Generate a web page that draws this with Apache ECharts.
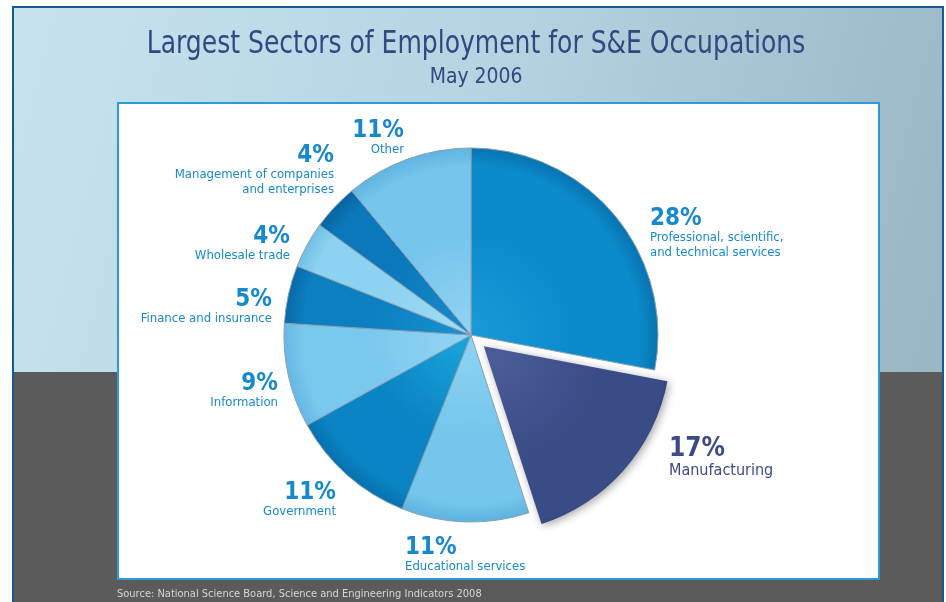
<!DOCTYPE html>
<html><head><meta charset="utf-8">
<script src="https://cdn.jsdelivr.net/npm/echarts@6/dist/echarts.min.js"></script>
<style>html,body{margin:0;padding:0;background:#fff}#c{width:946px;height:602px}</style>
</head><body><div id="c"></div>
<script>
const categories = ["Professional, scientific,\nand technical services","Manufacturing","Educational services","Government","Information","Finance and insurance","Wholesale trade","Management of companies\nand enterprises","Other"];
const values = [28,17,11,11,9,5,4,4,11];
const percentLabels = ["28%","17%","11%","11%","9%","5%","4%","4%","11%"];

const FONT = '"Liberation Sans Narrow","DejaVu Sans Condensed","Roboto Condensed","Noto Sans",sans-serif';
const baseColors = ['#0b8bcb','#3a4c86','#74c6ec','#0a84c4','#7ac8ee','#0b7fc0','#8cd2f1','#0a78ba','#76c5ec'];
const edgeColors = ['#0873b2','#1f2c5c','#5db4e0','#0870ae','#65b8e4','#086aa8','#72c0e6','#0864a2','#5fb5e2'];
const innerColors= ['#1a9ad6','#4a5d99','#8ed4f3','#1aa6dc','#94d6f4','#1a92d0','#a2dcf5','#1a8ccc','#92d3f3'];
const labelPos = [
  {x:650,y:207,align:'left'},
  {x:669,y:436,align:'left'},
  {x:405,y:536,align:'left'},
  {x:336,y:481,align:'right'},
  {x:278,y:372,align:'right'},
  {x:272,y:288,align:'right'},
  {x:290,y:225,align:'right'},
  {x:334,y:144,align:'right'},
  {x:404,y:119,align:'right'}
];
const CX=471, CY=335, R=187, OFF=17;
const EXPLODED = 1;

function labelCfg(i, show){
  const sel = i===EXPLODED;
  const name = categories[i];
  return {
    show: show,
    color: sel ? '#3b4b8a' : '#1689cc',
    formatter: '{p|'+percentLabels[i]+'}\n{n|'+name.split('\n').join('}\n{n|')+'}',
    rich: sel ? {
      p:{fontFamily:FONT,fontSize:26,fontWeight:'bold',lineHeight:26,color:'#3b4b8a'},
      n:{fontFamily:FONT,fontSize:16,lineHeight:18,color:'#3b4b8a'}
    } : {
      p:{fontFamily:FONT,fontSize:24,fontWeight:'bold',lineHeight:23,color:'#1689cc'},
      n:{fontFamily:FONT,fontSize:13,lineHeight:15,color:'#1689cc'}
    }
  };
}

const data = categories.map((name,i)=>{
  const sel = i===EXPLODED;
  const gx = sel ? CX+12.7 : CX, gy = sel ? CY+11.2 : CY;
  return {
    name, value: values[i], selected: sel,
    itemStyle:{
      color:{type:'radial',x:gx,y:gy,r:R,global:true,colorStops:[
        {offset:0,color:innerColors[i]},{offset:0.55,color:baseColors[i]},{offset:0.9,color:baseColors[i]},{offset:1,color:edgeColors[i]}]},
      borderColor: sel ? '#ffffff' : '#8aa0b0', borderWidth: sel ? 0 : 1,
      shadowBlur: sel ? 8 : 0, shadowColor:'rgba(0,0,0,0.35)', shadowOffsetX: sel?2:0, shadowOffsetY: sel?2:0
    },
    label: labelCfg(i, !sel)
  };
});
// label-only copy (transparent sectors) so the exploded slice's label can be placed freely
const labelData = categories.map((name,i)=>({
  name, value: values[i],
  itemStyle:{color:'rgba(0,0,0,0)',borderWidth:0},
  label: labelCfg(i, i===EXPLODED)
}));

const layoutFn = function(p){ const lp=labelPos[p.dataIndex]; return {x:lp.x,y:lp.y,align:lp.align,verticalAlign:'top',hideOverlap:false}; };

const chart = echarts.init(document.getElementById('c'));
chart.setOption({
  backgroundColor:'#ffffff',
  animation:false,
  graphic:[
    {type:'rect',z:-10,shape:{x:13,y:7,width:930,height:610},
      style:{fill:{type:'linear',x:0,y:0,x2:1,y2:0.4,colorStops:[{offset:0,color:'#c7e3f0'},{offset:0.5,color:'#b5d3e1'},{offset:1,color:'#99b7c5'}]},stroke:'#17588e',lineWidth:2}},
    {type:'rect',z:-9,shape:{x:14,y:372,width:928,height:240},style:{fill:'#5b5b5b'}},
    {type:'rect',z:-8,shape:{x:118,y:103,width:761,height:476},style:{fill:'#ffffff',stroke:'#2a9bd8',lineWidth:2}},
    {type:'text',z:5,x:476,y:29,scaleX:0.87,style:{text:'Largest Sectors of Employment for S&E Occupations',fill:'#2e4a80',font:'32px '+FONT,align:'center',verticalAlign:'top'}},
    {type:'text',z:5,x:476,y:66,scaleX:0.95,style:{text:'May 2006',fill:'#2e4a80',font:'22px '+FONT,align:'center',verticalAlign:'top'}},
    {type:'text',z:5,x:117,y:589,style:{text:'Source: National Science Board, Science and Engineering Indicators 2008',fill:'#d6d6d6',font:'11px '+FONT}}
  ],
  series:[{
    type:'pie',
    center:[CX,CY], radius:[0,R],
    startAngle:90, clockwise:true,
    selectedMode:'single', selectedOffset:OFF,
    avoidLabelOverlap:false,
    label:{position:'outside',fontFamily:FONT},
    labelLine:{show:false},
    labelLayout:layoutFn,
    emphasis:{disabled:true},
    data
  },{
    type:'pie', silent:true, z:5,
    center:[CX,CY], radius:[0,R],
    startAngle:90, clockwise:true,
    selectedMode:false,
    avoidLabelOverlap:false,
    label:{position:'outside',fontFamily:FONT},
    labelLine:{show:false},
    labelLayout:layoutFn,
    emphasis:{disabled:true},
    data: labelData
  }]
});
</script></body></html>
